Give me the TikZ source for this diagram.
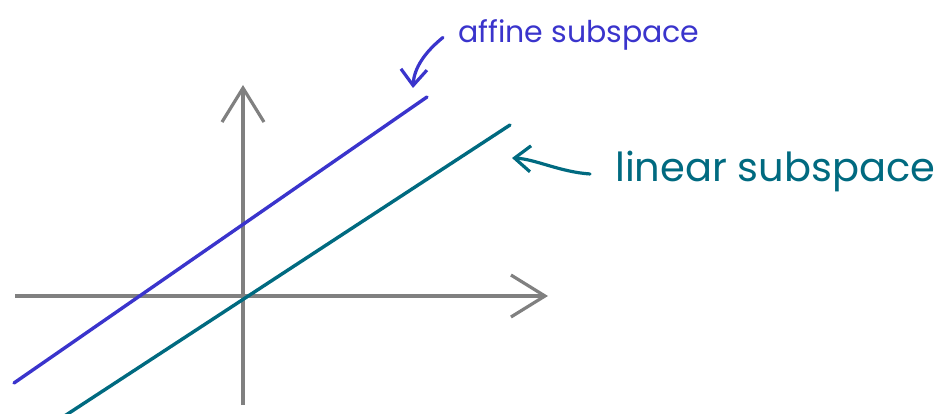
\documentclass[tikz,border=0pt]{standalone}
\usepackage{fontspec}
\setmainfont{Poppins}
\usetikzlibrary{arrows.meta}
\definecolor{affinecol}{RGB}{58,52,204}
\definecolor{linearcol}{RGB}{0,106,128}
\definecolor{axiscol}{RGB}{128,128,128}

\begin{document}
\begin{tikzpicture}[
      x=1pt, y=-1pt,
      axis/.style={axiscol, line width=3.2pt, -{Straight Barb[length=34pt,width=42pt]}},
      subline/.style={line width=3.4pt, line cap=round},
      labelarrow/.style={line width=3.2pt, line cap=round, -{Straight Barb[length=16pt,width=26pt]}}
    ]
      \useasboundingbox (0,0) rectangle (947,414);

      % axes
      \coordinate (xstart) at (15,296);
      \coordinate (xend) at (548,296);
      \coordinate (ystart) at (243,405);
      \coordinate (yend) at (243,85);
      \draw[axis] (xstart) -- (xend);
      \draw[axis] (ystart) -- (yend);

      % subspaces
      \coordinate (affA) at (14,383);
      \coordinate (affB) at (427,97);
      \coordinate (linA) at (63,417);
      \coordinate (linB) at (510,125);
      \draw[subline, affinecol] (affA) -- (affB);
      \draw[subline, linearcol] (linA) -- (linB);

      % labels
      \node[anchor=base west, inner sep=0pt, text=affinecol, font=\fontsize{30}{30}\selectfont] (affine) at (458,43) {affine subspace};
      \node[anchor=base west, inner sep=0pt, text=linearcol, font=\fontsize{40}{40}\selectfont] (linear) at (615,182) {linear subspace};

      \coordinate (affinetip) at (413,88);
      \coordinate (lineartip) at (512,158);
      \draw[labelarrow, affinecol] ([xshift=-15pt,yshift=-2pt]affine.west) .. controls (425,52) and (414,68) .. (affinetip);
      \draw[labelarrow, linearcol] ([xshift=-25pt,yshift=-2pt]linear.west) .. controls (560,172) and (535,159) .. (lineartip);
    \end{tikzpicture}
\end{document}
